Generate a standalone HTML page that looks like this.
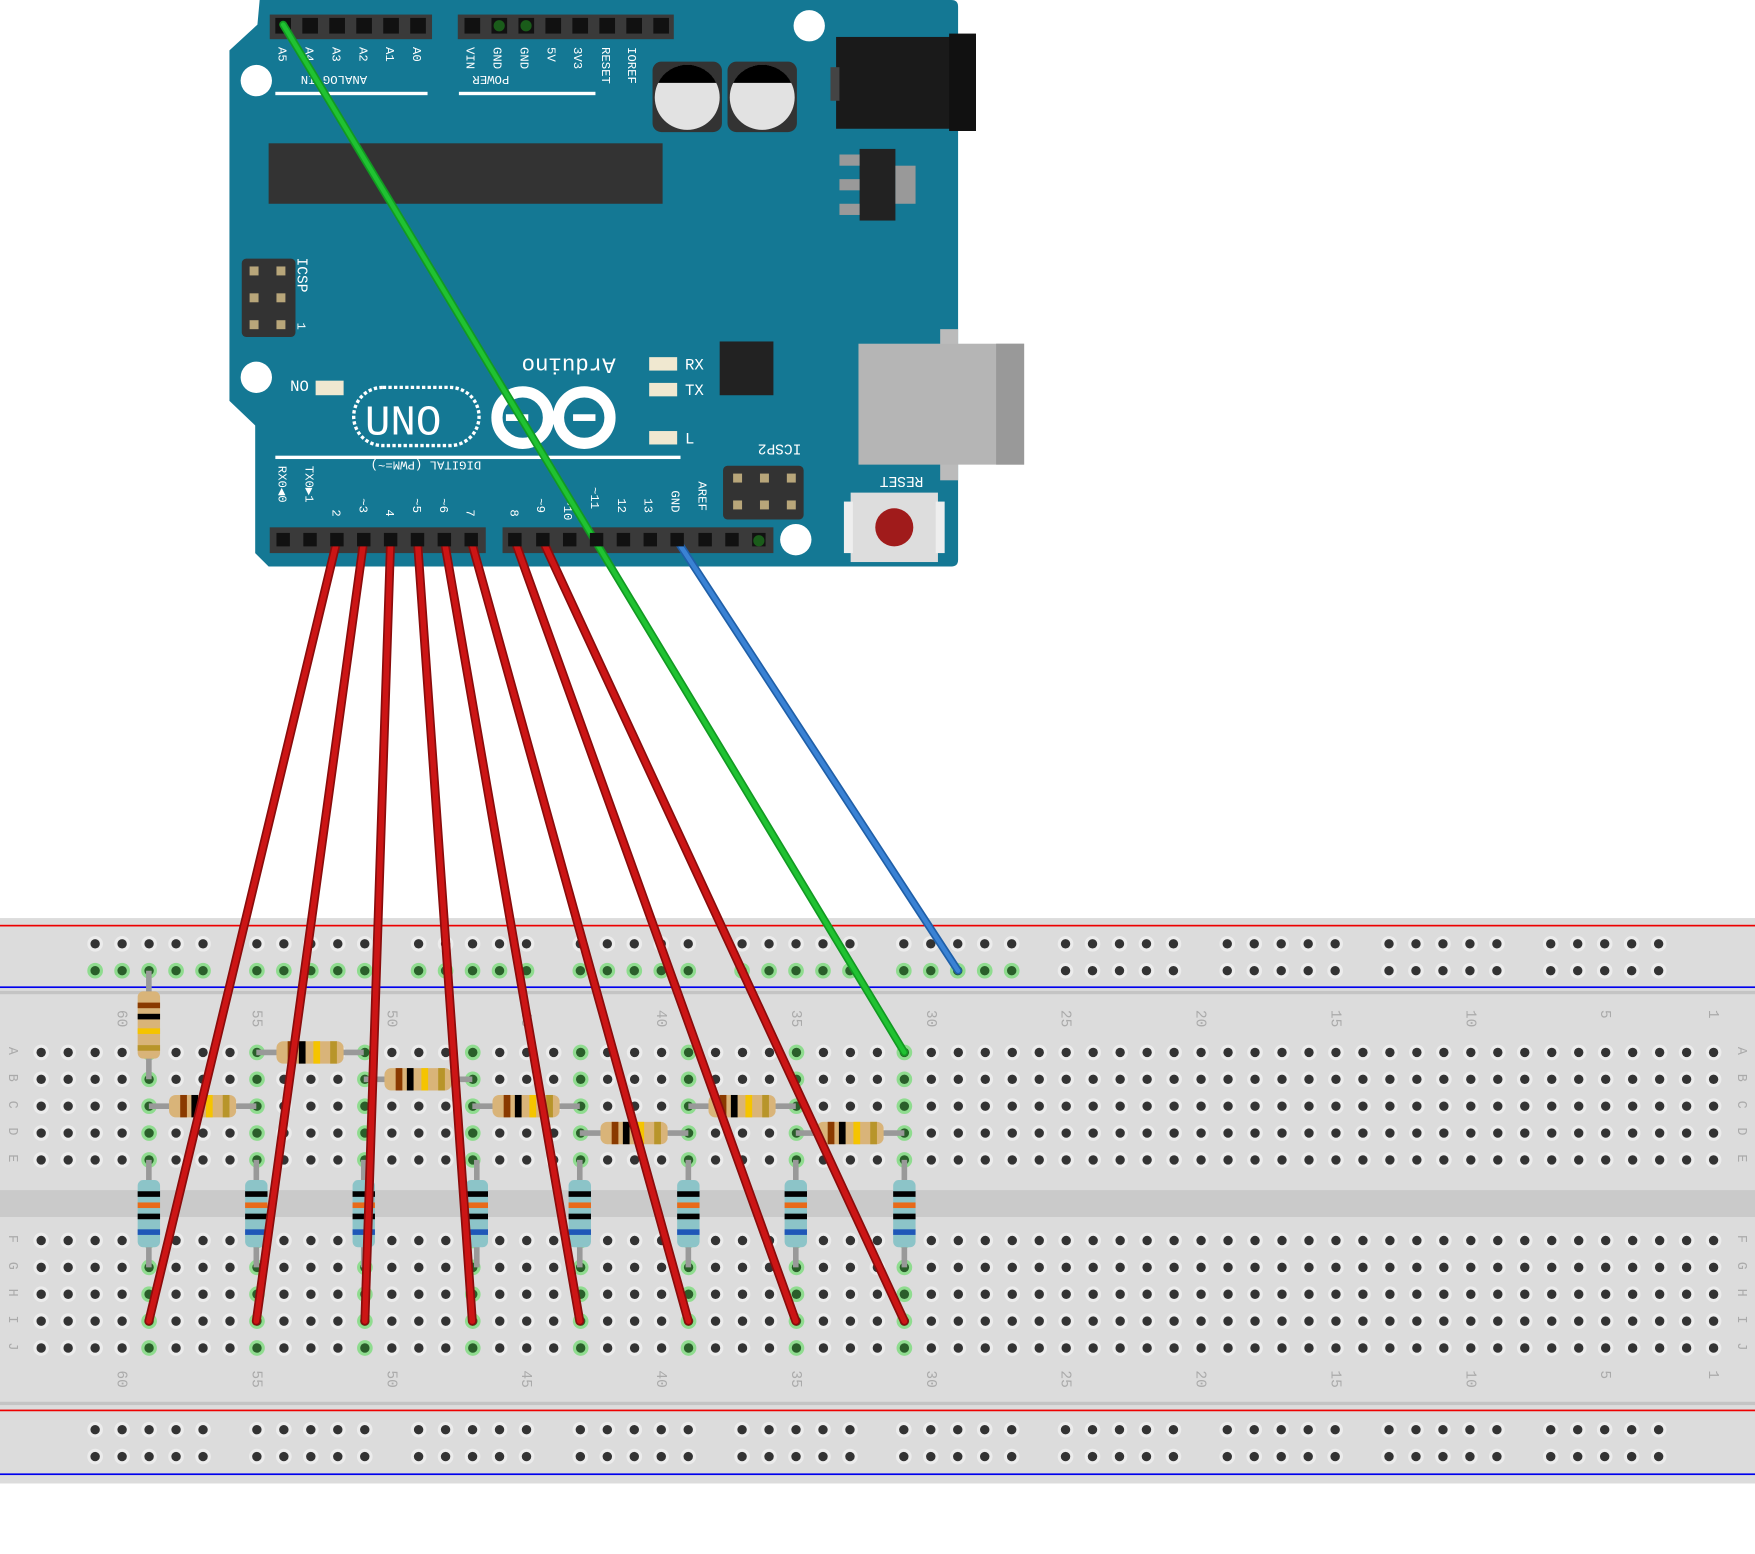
<!DOCTYPE html>
<html><head><meta charset="utf-8"><style>
html,body{margin:0;padding:0;background:#fff;}
svg{display:block;}
text{font-family:"Liberation Mono",monospace;}
</style></head><body>
<svg id="s" width="1755" height="1554" viewBox="0 0 1568 1388" preserveAspectRatio="none" xmlns="http://www.w3.org/2000/svg">
<path d="M232,0 L850,0 Q856,0 856,6 L856,500 Q856,506 850,506 L240,506 L228,494 L228,380 L205,358 L205,45 L230,22 Z" fill="#147894"/>
<circle cx="723" cy="23" r="14" fill="#fff"/>
<circle cx="229" cy="72" r="14" fill="#fff"/>
<circle cx="229" cy="337" r="14" fill="#fff"/>
<circle cx="711" cy="482" r="14" fill="#fff"/>
<rect x="240" y="128" width="352" height="54" fill="#333"/>
<rect x="241" y="13" width="145" height="22" fill="#3a3a3a"/>
<rect x="409" y="13" width="193" height="22" fill="#3a3a3a"/>
<g id="hdr"></g>
<rect x="246" y="82" width="136" height="3" fill="#fff"/>
<rect x="410" y="82" width="122" height="3" fill="#fff"/>
<g fill="#fff" font-size="11">
<text transform="translate(249,42) rotate(90)">A5</text>
<text transform="translate(273,42) rotate(90)">A4</text>
<text transform="translate(297,42) rotate(90)">A3</text>
<text transform="translate(321,42) rotate(90)">A2</text>
<text transform="translate(345,42) rotate(90)">A1</text>
<text transform="translate(369,42) rotate(90)">A0</text>
<text transform="translate(417,42) rotate(90)">VIN</text>
<text transform="translate(441,42) rotate(90)">GND</text>
<text transform="translate(465,42) rotate(90)">GND</text>
<text transform="translate(489,42) rotate(90)">5V</text>
<text transform="translate(513,42) rotate(90)">3V3</text>
<text transform="translate(538,42) rotate(90)">RESET</text>
<text transform="translate(561,42) rotate(90)">IOREF</text>
<text transform="translate(328,68) rotate(180)">ANALOG IN</text>
<text transform="translate(455,68) rotate(180)">POWER</text>
<text transform="translate(266,230) rotate(90)" font-size="13">ICSP</text>
<text transform="translate(266,288) rotate(90)">1</text>
<text transform="translate(550,320) rotate(180)" font-size="20">Arduino</text>
<text x="612" y="330" font-size="14">RX</text>
<text x="612" y="353" font-size="14">TX</text>
<text x="612" y="396" font-size="14">L</text>
<text transform="translate(276,340) rotate(180)" font-size="14">ON</text>
<text transform="translate(716,397) rotate(180)" font-size="13">ICSP2</text>
<text transform="translate(825,426) rotate(180)" font-size="13">RESET</text>
<text transform="translate(430,412) rotate(180)">DIGITAL (PWM=~)</text>
<text transform="translate(249,416) rotate(90)">RX0◀0</text>
<text transform="translate(273,416) rotate(90)">TX0▶1</text>
<text transform="translate(297,455) rotate(90)">2</text>
<text transform="translate(321,445) rotate(90)">~3</text>
<text transform="translate(345,455) rotate(90)">4</text>
<text transform="translate(369,445) rotate(90)">~5</text>
<text transform="translate(393,445) rotate(90)">~6</text>
<text transform="translate(417,455) rotate(90)">7</text>
<text transform="translate(456,455) rotate(90)">8</text>
<text transform="translate(480,445) rotate(90)">~9</text>
<text transform="translate(504,445) rotate(90)">~10</text>
<text transform="translate(528,435) rotate(90)">~11</text>
<text transform="translate(552,445) rotate(90)">12</text>
<text transform="translate(576,445) rotate(90)">13</text>
<text transform="translate(600,438) rotate(90)">GND</text>
<text transform="translate(624,430) rotate(90)">AREF</text>
</g>
<rect x="246" y="407" width="362" height="3" fill="#fff"/>
<rect x="216" y="231" width="48" height="70" rx="4" fill="#333"/>
<g fill="#b8a67a"><rect x="223" y="238" width="8" height="8"/><rect x="247" y="238" width="8" height="8"/><rect x="223" y="262" width="8" height="8"/><rect x="247" y="262" width="8" height="8"/><rect x="223" y="286" width="8" height="8"/><rect x="247" y="286" width="8" height="8"/></g>
<rect x="646" y="416" width="72" height="48" rx="4" fill="#333"/>
<g fill="#b8a67a"><rect x="655" y="423" width="8" height="8"/><rect x="679" y="423" width="8" height="8"/><rect x="703" y="423" width="8" height="8"/><rect x="655" y="447" width="8" height="8"/><rect x="679" y="447" width="8" height="8"/><rect x="703" y="447" width="8" height="8"/></g>
<rect x="583" y="55" width="62" height="63" rx="8" fill="#333"/>
<circle cx="614" cy="87" r="29" fill="#e2e2e2"/><path d="M588,74 A29,29 0 0 1 640,74 Z" fill="#000"/>
<rect x="650" y="55" width="62" height="63" rx="8" fill="#333"/>
<circle cx="681" cy="87" r="29" fill="#e2e2e2"/><path d="M655,74 A29,29 0 0 1 707,74 Z" fill="#000"/>
<rect x="747" y="33" width="125" height="82" fill="#1a1a1a"/><rect x="848" y="30" width="24" height="87" fill="#111"/><rect x="742" y="60" width="8" height="30" fill="#444"/>
<rect x="768" y="133" width="32" height="64" fill="#222"/><rect x="800" y="148" width="18" height="34" fill="#999"/>
<rect x="750" y="138" width="18" height="10" fill="#999"/><rect x="750" y="160" width="18" height="10" fill="#999"/><rect x="750" y="182" width="18" height="10" fill="#999"/>
<rect x="643" y="305" width="48" height="48" fill="#222"/>
<rect x="840" y="294" width="16" height="135" fill="#bbb"/>
<rect x="767" y="307" width="148" height="108" fill="#b5b5b5"/><rect x="890" y="307" width="25" height="108" fill="#999"/>
<g fill="#f0e8d0"><rect x="580" y="319" width="25" height="12"/><rect x="580" y="342" width="25" height="12"/><rect x="580" y="385" width="25" height="12"/><rect x="282" y="340" width="25" height="13"/></g>
<rect x="316" y="346" width="112" height="52" rx="26" fill="none" stroke="#fff" stroke-width="3" stroke-dasharray="3 2"/>
<text x="326" y="388" font-family="Liberation Sans" font-size="38" fill="#fff">UNO</text>
<circle cx="467" cy="373" r="23" fill="none" stroke="#fff" stroke-width="10"/>
<circle cx="522" cy="373" r="23" fill="none" stroke="#fff" stroke-width="10"/>
<rect x="452" y="370" width="20" height="6" fill="#fff"/><rect x="512" y="370" width="20" height="6" fill="#fff"/>
<rect x="760" y="440" width="78" height="62" fill="#ddd"/><rect x="754" y="448" width="8" height="46" fill="#eee"/><rect x="836" y="448" width="8" height="46" fill="#eee"/>
<circle cx="799" cy="471" r="17" fill="#a01b1b"/>
<rect x="241" y="471" width="193" height="23" fill="#3a3a3a"/>
<rect x="449" y="471" width="242" height="23" fill="#3a3a3a"/>

<rect x="0" y="820" width="1568" height="505" fill="#dcdcdc"/>
<rect x="0" y="885" width="1568" height="3" fill="#c4c4c4"/>
<rect x="0" y="1252" width="1568" height="3" fill="#c4c4c4"/>
<rect x="0" y="1063" width="1568" height="24" fill="#cacaca"/>
<rect x="0" y="826" width="1568" height="1.5" fill="#e00"/>
<rect x="0" y="881" width="1568" height="1.5" fill="#00e"/>
<rect x="0" y="1259" width="1568" height="1.5" fill="#e00"/>
<rect x="0" y="1316" width="1568" height="1.5" fill="#00e"/>
<g id="bb"></g>
<g id="res"></g>
<g stroke-linecap="round" fill="none">
<g stroke="#8a0c0c" stroke-width="8">
<line x1="301" y1="483" x2="133" y2="1180"/><line x1="325" y1="483" x2="229" y2="1180"/><line x1="349" y1="483" x2="326" y2="1180"/><line x1="373" y1="483" x2="422" y2="1180"/><line x1="397" y1="483" x2="518" y2="1180"/><line x1="421" y1="483" x2="615" y2="1180"/><line x1="460" y1="483" x2="711" y2="1180"/><line x1="485" y1="483" x2="808" y2="1180"/>
</g>
<g stroke="#cc1515" stroke-width="5">
<line x1="301" y1="483" x2="133" y2="1180"/><line x1="325" y1="483" x2="229" y2="1180"/><line x1="349" y1="483" x2="326" y2="1180"/><line x1="373" y1="483" x2="422" y2="1180"/><line x1="397" y1="483" x2="518" y2="1180"/><line x1="421" y1="483" x2="615" y2="1180"/><line x1="460" y1="483" x2="711" y2="1180"/><line x1="485" y1="483" x2="808" y2="1180"/>
</g>
<line x1="605" y1="483" x2="856" y2="867" stroke="#1f5fa8" stroke-width="7"/>
<line x1="605" y1="483" x2="856" y2="867" stroke="#3a82d4" stroke-width="4"/>
<line x1="253" y1="22" x2="808" y2="940" stroke="#129a22" stroke-width="7"/>
<line x1="253" y1="22" x2="808" y2="940" stroke="#20c232" stroke-width="4"/>
</g>
</svg>
<script>
var NS="http://www.w3.org/2000/svg";
function el(p,t,a){var e=document.createElementNS(NS,t);for(var k in a)e.setAttribute(k,a[k]);p.appendChild(e);return e;}
var hdr=document.getElementById('hdr'),s=document.getElementById('s');
function pins(x0,n,y){for(var i=0;i<n;i++){var x=x0+i*24.1;el(hdr,'rect',{x:x-7,y:y-7,width:14,height:14,fill:'#111'});}}
pins(253,6,23);pins(422,8,23);
var bx=[253,277,301,325,349,373,397,421,460,485,509,533,557,581,605,630,654,678];
bx.forEach(function(x){el(s,'rect',{x:x-6,y:476,width:12,height:12,fill:'#111'});});
[[446,23],[470,23],[678,483]].forEach(function(p){el(s,'circle',{cx:p[0],cy:p[1],r:5,fill:'#1a5c1a'});});
var g=document.getElementById('bb');
function colx(i){return 1531-(i-1)*24.1;}
var gcols=[59,55,51,47,43,39,35,31];
var rowsA=[940,964,988,1012,1036],rowsF=[1108,1132,1156,1180,1204];
function hole(x,y,gr){el(g,'circle',{cx:x,cy:y,r:7,fill:gr?'#8fdc8f':'#ececec'});el(g,'circle',{cx:x,cy:y,r:4.2,fill:gr?'#2a5e2a':'#333'});}
for(var c=1;c<=63;c++){var x=colx(c);
 rowsA.forEach(function(y){hole(x,y,gcols.indexOf(c)>=0);});
 rowsF.forEach(function(y){hole(x,y,gcols.indexOf(c)>=0);});
 if(c%5==0||c==1){[910,1232].forEach(function(y){var t=el(g,'text',{transform:'translate('+(x-4)+','+(y-8)+') rotate(90)','font-size':'13','fill':'#aaa','font-family':'Liberation Sans'});t.textContent=c;});}
}
var letters='ABCDE',l2='FGHIJ';
for(var i=0;i<5;i++){[8,1553].forEach(function(px){var t=el(g,'text',{transform:'translate('+px+','+(rowsA[i]-5)+') rotate(90)','font-size':'12','fill':'#aaa','font-family':'Liberation Sans'});t.textContent=letters[i];var t2=el(g,'text',{transform:'translate('+px+','+(rowsF[i]-5)+') rotate(90)','font-size':'12','fill':'#aaa','font-family':'Liberation Sans'});t2.textContent=l2[i];});}
for(var k=0;k<10;k++){var x0=85+k*144.5;for(var j=0;j<5;j++){var x=x0+j*24.1;hole(x,843,false);hole(x,867,k<6);hole(x,1277,false);hole(x,1301,false);}}
var r=document.getElementById('res');
function hres(x1,x2,y){el(r,'line',{x1:x1,y1:y,x2:x2,y2:y,stroke:'#999',"stroke-width":5});var bx=(x1+x2)/2-30;el(r,'rect',{x:bx,y:y-10,width:60,height:20,rx:6,fill:'#d9b479'});
 [[bx+10,'#8a3a00'],[bx+20,'#000'],[bx+33,'#f5c400'],[bx+48,'#b8952a']].forEach(function(b){el(r,'rect',{x:b[0],y:y-10,width:6,height:20,fill:b[1]});});}
function vres(x,y1,y2,blue){el(r,'line',{x1:x,y1:y1,x2:x,y2:y2,stroke:'#999',"stroke-width":5});var by=(y1+y2)/2-30;el(r,'rect',{x:x-10,y:by,width:20,height:60,rx:5,fill:blue?'#8cc4c8':'#d9b479'});
 var bands=blue?[['#000',10],['#e86a1a',20],['#000',30],['#1f57b8',44]]:[['#8a3a00',10],['#000',20],['#f5c400',33],['#b8952a',48]];bands.forEach(function(b){el(r,'rect',{x:x-10,y:by+b[1],width:20,height:5,fill:b[0]});});}
vres(133,867,964,false);
hres(133,229,988);hres(229,325,940);hres(325,422,964);hres(422,518,988);hres(518,615,1012);hres(615,711,988);hres(711,808,1012);
[133,229,325,426,518,615,711,808].forEach(function(x){vres(x,1036,1132,true);});
</script>
</body></html>
